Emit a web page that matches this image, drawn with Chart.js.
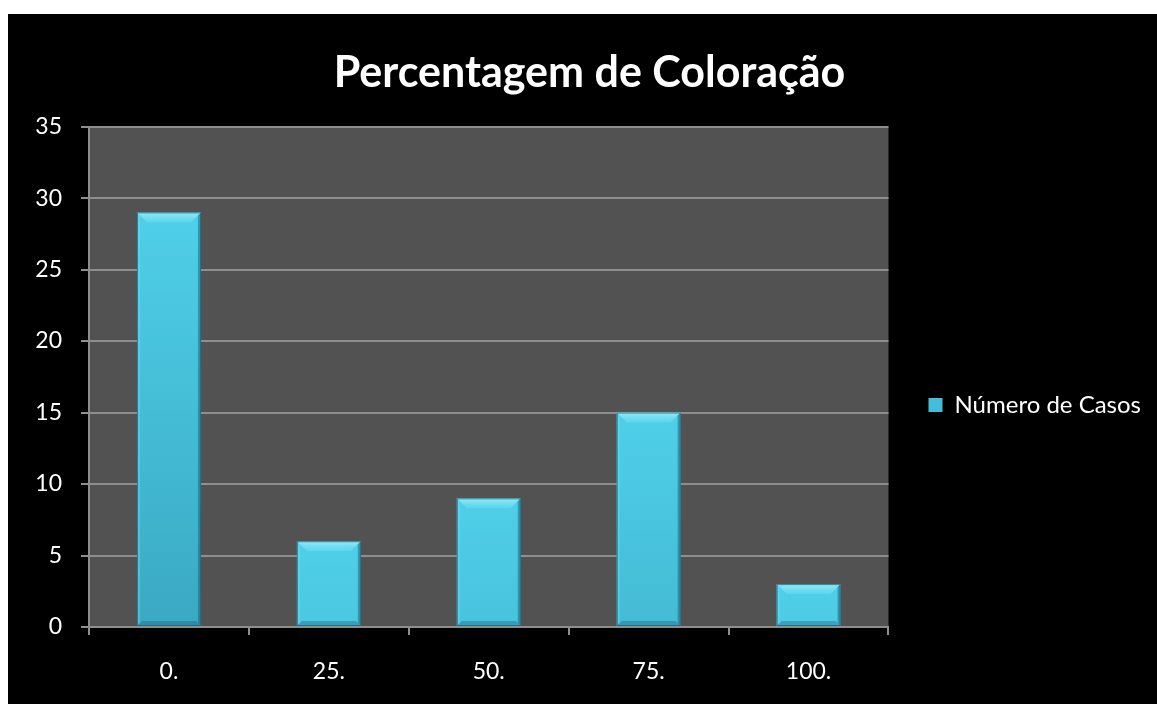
<!DOCTYPE html>
<html lang="pt">
<head>
  <meta charset="UTF-8">
  <title>Percentagem de Coloração</title>
  <script src="https://cdn.jsdelivr.net/npm/chart.js"></script>
  <style>
    html, body { margin: 0; padding: 0; background: #fff; }
    .frame { position: absolute; left: 8px; top: 14px; width: 1149px; height: 690px; background: #000; }
  </style>
</head>
<body>
  <div class="frame">
    <canvas id="colorChart" width="1149" height="690"></canvas>
  </div>

  <script>
    // valores do gráfico
    const categorias = ['0.', '25.', '50.', '75.', '100.'];
    const numeroCasos = [29, 6, 9, 15, 3];
    const ticksY = [0, 5, 10, 15, 20, 25, 30, 35];

    const FONT = 'Lato, "Open Sans", sans-serif';
    const BAR_TOP = [79, 207, 233];
    const BAR_BOTTOM = [56, 165, 191];

    function mix(a, b, t) {
      return 'rgb(' + a.map((v, i) => Math.round(v + (b[i] - v) * t)).join(',') + ')';
    }

    // gradiente por barra, escurece conforme a altura da barra
    function barFill(ctx) {
      const chart = ctx.chart;
      const area = chart.chartArea;
      if (!area || ctx.type !== 'data') return mix(BAR_TOP, BAR_BOTTOM, 0.3);
      const y = chart.scales.y;
      const top = y.getPixelForValue(ctx.parsed.y);
      const base = y.getPixelForValue(0);
      const t = (base - top) / (area.bottom - area.top);
      const g = chart.ctx.createLinearGradient(0, top, 0, base);
      g.addColorStop(0, mix(BAR_TOP, BAR_TOP, 0));
      g.addColorStop(1, mix(BAR_TOP, BAR_BOTTOM, Math.min(1, t * 1.1)));
      return g;
    }

    // fundo cinza da área de plotagem
    const plotBg = {
      id: 'plotBg',
      beforeDraw(chart) {
        const { ctx, chartArea: a } = chart;
        ctx.save();
        ctx.fillStyle = '#525252';
        ctx.fillRect(a.left, a.top, a.right - a.left, a.bottom - a.top);
        ctx.restore();
      }
    };

    // chanfro das barras
    const bevel = {
      id: 'bevel',
      afterDatasetsDraw(chart) {
        const ctx = chart.ctx;
        chart.getDatasetMeta(0).data.forEach(bar => {
          const { x, y, base, width } = bar.getProps(['x', 'y', 'base', 'width'], true);
          const l = x - width / 2, r = x + width / 2, t = y, b = base;
          const d = Math.min(10, (b - t) / 3);
          ctx.save();
          // topo claro
          const gt = ctx.createLinearGradient(0, t, 0, t + d);
          gt.addColorStop(0, 'rgba(150,236,250,0.95)');
          gt.addColorStop(1, 'rgba(100,218,240,0.6)');
          ctx.fillStyle = gt;
          ctx.beginPath();
          ctx.moveTo(l, t); ctx.lineTo(r, t); ctx.lineTo(r - d, t + d); ctx.lineTo(l + d, t + d);
          ctx.closePath(); ctx.fill();
          // lateral esquerda
          ctx.fillStyle = 'rgba(120,225,245,0.35)';
          ctx.beginPath();
          ctx.moveTo(l, t); ctx.lineTo(l + 3, t + 3); ctx.lineTo(l + 3, b - 3); ctx.lineTo(l, b);
          ctx.closePath(); ctx.fill();
          // lateral direita
          ctx.fillStyle = 'rgba(20,90,110,0.45)';
          ctx.beginPath();
          ctx.moveTo(r, t); ctx.lineTo(r - 3, t + 3); ctx.lineTo(r - 3, b - 3); ctx.lineTo(r, b);
          ctx.closePath(); ctx.fill();
          // base
          ctx.fillStyle = 'rgba(20,90,110,0.35)';
          ctx.beginPath();
          ctx.moveTo(l, b); ctx.lineTo(r, b); ctx.lineTo(r - 5, b - 5); ctx.lineTo(l + 5, b - 5);
          ctx.closePath(); ctx.fill();
          // contorno
          ctx.strokeStyle = 'rgba(30,100,120,0.8)';
          ctx.lineWidth = 1;
          ctx.strokeRect(l + 0.5, t + 0.5, width - 1, b - t - 1);
          ctx.restore();
        });
      }
    };

    // desce a legenda um pouco, como no gráfico original
    const legendShift = {
      id: 'legendShift',
      afterLayout(chart) {
        chart.legend.top += 55;
        chart.legend.bottom += 55;
      }
    };

    const ctx = document.getElementById('colorChart').getContext('2d');
    const colorChart = new Chart(ctx, {
      type: 'bar',
      data: {
        labels: categorias,
        datasets: [{
          label: 'Número de Casos',
          data: numeroCasos,
          backgroundColor: barFill,
          borderWidth: 0,
          categoryPercentage: 1,
          barPercentage: 0.4
        }]
      },
      options: {
        responsive: false,
        animation: false,
        layout: { padding: { left: 20, right: 6, top: 0, bottom: 18 } },
        plugins: {
          title: {
            display: true,
            text: 'Percentagem de Coloração',
            color: '#fff',
            font: { family: FONT, size: 43, weight: 'bold' },
            padding: { top: 33, bottom: 28 }
          },
          legend: {
            position: 'right',
            labels: {
              color: '#fff',
              font: { family: FONT, size: 24 },
              boxWidth: 14,
              boxHeight: 14,
              padding: 40
            }
          },
          tooltip: { enabled: false }
        },
        scales: {
          x: {
            afterFit(scale) { scale.height = 59; },
            grid: { display: true, drawOnChartArea: false, drawTicks: true, tickLength: 8, color: '#8e8e8e', lineWidth: 2 },
            border: { color: '#8e8e8e', width: 2 },
            ticks: { color: '#fff', font: { family: FONT, size: 23 }, padding: 23 }
          },
          y: {
            min: 0,
            max: 35,
            afterBuildTicks(scale) {
              scale.ticks = ticksY.map(v => ({ value: v }));
            },
            afterFit(scale) { scale.width = 61; },
            grid: { color: '#8e8e8e', lineWidth: 2, tickLength: 8 },
            border: { color: '#8e8e8e', width: 2 },
            ticks: { color: '#fff', font: { family: FONT, size: 23 }, padding: 19 }
          }
        }
      },
      plugins: [plotBg, bevel, legendShift]
    });
  </script>
</body>
</html>
